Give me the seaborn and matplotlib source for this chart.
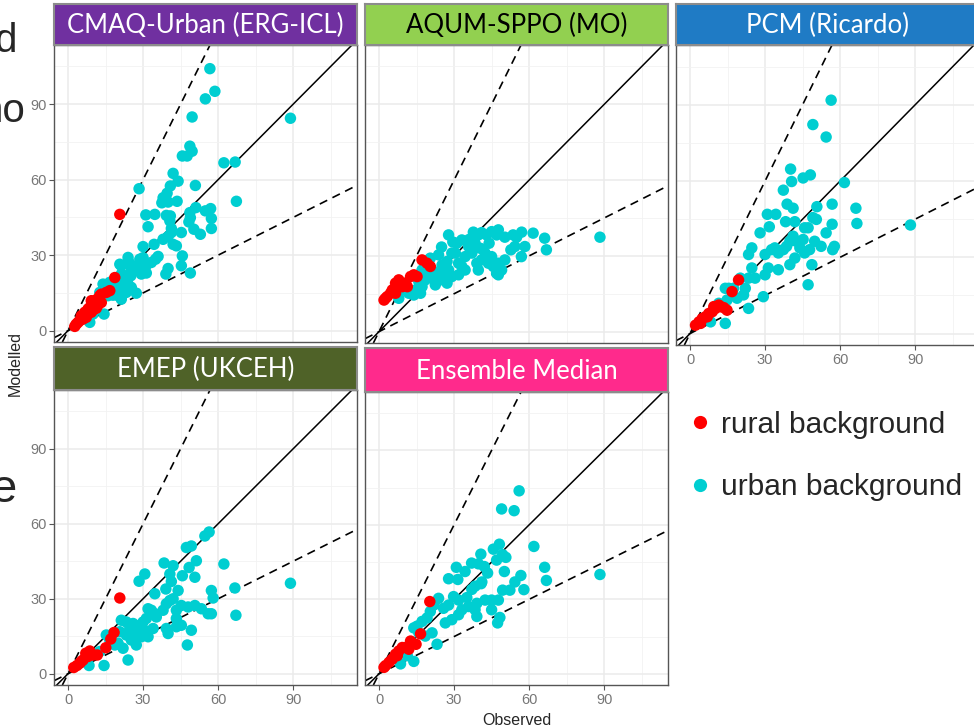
import numpy as np
import pandas as pd
import matplotlib
matplotlib.use("Agg")
import matplotlib.pyplot as plt
import seaborn as sns
from matplotlib.lines import Line2D

# panel titles and strip colours
models = ["CMAQ-Urban (ERG-ICL)", "AQUM-SPPO (MO)", "PCM (Ricardo)",
          "EMEP (UKCEH)", "Ensemble Median"]
strip_colors = ["#7030A0", "#92D050", "#1F7BC5", "#4F6228", "#FF2A8C"]
strip_text_colors = ["white", "black", "white", "white", "white"]
site_types = ["rural background", "urban background"]
site_colors = ["#FF0000", "#00CED1"]
major_ticks = [0, 30, 60, 90]
minor_ticks = [15, 45, 75, 105]

# (observed, modelled) pairs
cmaq_urban = [(56.7, 104.1), (58.7, 95.1), (54.9, 92.1), (49.6, 84.9), (88.9, 84.4),
              (48.7, 73.3), (49.6, 71.3), (45.7, 69.4), (47.6, 69.4), (62.3, 66.7),
              (66.8, 67.0), (67.3, 51.4), (42.0, 62.5), (44.0, 59.4), (40.9, 57.5),
              (50.9, 57.7), (28.4, 56.4), (39.6, 54.6), (38.0, 52.8), (37.5, 50.8),
              (40.0, 51.1), (43.6, 51.4), (51.1, 48.9), (54.9, 47.6), (57.0, 48.5),
              (48.7, 46.9), (48.9, 44.9), (48.3, 43.2), (31.1, 46.0), (34.7, 46.2),
              (39.3, 45.8), (40.9, 45.6), (40.7, 43.6), (32.0, 41.3), (57.3, 44.6),
              (57.3, 40.6), (50.3, 40.3), (52.9, 38.3), (41.3, 40.6), (41.3, 39.0),
              (45.3, 39.0), (38.0, 36.3), (40.0, 37.4), (42.0, 34.3), (43.3, 33.7),
              (34.4, 34.3), (30.0, 33.4), (45.7, 29.7), (45.3, 25.8), (48.9, 22.9),
              (40.0, 24.7), (39.1, 22.5), (36.0, 29.5), (35.0, 28.4), (33.3, 27.1),
              (31.3, 26.0), (30.0, 29.0), (28.7, 28.4), (27.3, 25.8), (28.7, 23.8),
              (31.3, 22.9), (29.3, 22.5), (20.7, 26.4), (21.3, 25.8), (24.0, 29.1),
              (24.4, 27.1), (25.3, 24.4), (25.1, 21.8), (23.3, 21.8), (21.3, 22.5),
              (22.0, 19.2), (24.0, 18.5), (25.3, 17.2), (27.3, 14.9), (14.0, 18.5),
              (16.7, 19.2), (18.7, 18.9), (19.3, 16.5), (22.0, 15.9), (18.0, 14.1),
              (15.1, 15.5), (16.0, 13.9), (12.7, 11.9), (11.3, 9.9), (10.0, 6.6),
              (8.7, 3.3), (14.4, 6.6), (21.3, 12.5), (23.3, 15.2), (20.0, 13.9),
              (12.7, 15.2)]
cmaq_rural = [(20.7, 46.2), (18.7, 21.1), (16.7, 15.9), (15.3, 15.2), (13.3, 14.5),
              (12.7, 13.9), (11.3, 12.3), (10.0, 10.9), (9.3, 11.9), (10.7, 10.6),
              (8.7, 9.2), (8.0, 8.6), (9.3, 7.3), (6.7, 7.3), (7.3, 5.3), (5.3, 5.9),
              (4.7, 4.0), (6.0, 4.6), (3.3, 2.6), (2.7, 1.7), (4.0, 3.3), (12.0, 10.2),
              (13.3, 11.2), (11.3, 8.9), (10.0, 8.2)]

aqum_urban = [(88.3, 37.4), (66.2, 37.0), (66.9, 32.4), (61.6, 39.0), (57.0, 39.4),
              (53.6, 38.3), (55.0, 37.4), (50.3, 37.4), (47.7, 40.3), (47.0, 38.3),
              (45.0, 39.6), (43.0, 38.3), (41.0, 39.2), (37.7, 39.4), (39.7, 38.3),
              (58.3, 33.7), (54.3, 33.7), (52.7, 32.4), (56.9, 29.7), (50.3, 28.4),
              (47.7, 27.1), (49.0, 24.4), (47.0, 23.1), (47.7, 22.5), (45.0, 29.7),
              (42.4, 31.1), (41.0, 28.4), (43.7, 27.1), (45.7, 25.8), (39.1, 27.1),
              (39.7, 24.4), (37.1, 31.1), (35.8, 33.7), (38.4, 35.0), (34.4, 29.7),
              (33.1, 25.8), (31.8, 27.1), (30.5, 31.1), (31.1, 35.0), (33.1, 36.3),
              (27.8, 38.3), (29.1, 31.1), (27.2, 27.8), (27.8, 24.4), (25.8, 23.1),
              (25.2, 26.4), (23.8, 30.4), (20.5, 29.1), (22.5, 23.1), (21.2, 24.4),
              (19.9, 21.8), (17.2, 24.4), (18.5, 20.5), (22.5, 19.8), (24.5, 20.5),
              (27.2, 19.2), (22.5, 18.5), (15.9, 19.8), (17.2, 17.8), (14.6, 16.5),
              (16.6, 15.2), (13.9, 14.5), (11.9, 15.2), (9.9, 16.5), (7.9, 13.2),
              (23.8, 21.8), (29.1, 21.8), (31.8, 22.5), (34.4, 24.4), (36.0, 36.5),
              (44.0, 35.0), (40.5, 33.0), (25.0, 33.5), (29.5, 35.5)]
aqum_rural = [(17.2, 28.4), (19.2, 27.1), (20.5, 25.8), (13.9, 22.5), (12.6, 21.8),
              (15.2, 21.8), (7.9, 20.5), (6.6, 19.2), (9.3, 17.8), (10.6, 19.2),
              (11.3, 17.8), (5.3, 16.5), (4.6, 15.2), (3.3, 13.9), (2.0, 12.5),
              (2.6, 13.2), (6.6, 15.2)]

pcm_urban = [(56.4, 91.8), (49.1, 82.2), (54.4, 77.3), (40.2, 64.7), (40.6, 59.8),
             (37.3, 56.4), (45.2, 61.2), (48.1, 62.4), (61.7, 59.4), (38.8, 50.9),
             (41.2, 49.3), (30.9, 46.9), (34.3, 46.9), (38.2, 44.0), (41.9, 44.0),
             (45.8, 41.6), (49.1, 45.6), (50.5, 44.9), (47.2, 41.6), (50.7, 49.9),
             (56.8, 50.9), (56.8, 43.0), (66.3, 49.3), (66.7, 43.3), (88.1, 42.7),
             (28.0, 39.6), (31.7, 42.0), (24.7, 33.7), (23.4, 31.1), (30.0, 31.1),
             (32.6, 33.0), (33.9, 33.7), (35.3, 31.7), (37.3, 33.0), (38.6, 34.3),
             (39.9, 36.3), (41.2, 38.3), (42.5, 36.3), (43.9, 33.7), (45.2, 37.0),
             (47.8, 33.0), (52.4, 34.3), (54.4, 39.6), (57.0, 33.0), (57.7, 34.3),
             (41.9, 29.7), (39.9, 27.1), (35.3, 25.1), (31.3, 25.8), (30.0, 23.1),
             (29.3, 14.5), (24.7, 25.8), (26.0, 21.8), (23.4, 21.8), (20.1, 21.8),
             (22.1, 17.8), (21.4, 15.2), (23.4, 9.9), (18.8, 13.9), (15.5, 17.8),
             (14.1, 17.8), (17.4, 17.8), (14.8, 13.2), (11.5, 11.9), (8.2, 4.6),
             (14.1, 4.0), (47.2, 19.2), (48.7, 27.1), (45.8, 31.7), (49.8, 36.3)]
pcm_rural = [(16.8, 16.5), (19.4, 21.1), (11.5, 11.2), (10.2, 9.9), (8.9, 8.6),
             (7.5, 7.9), (6.2, 6.6), (4.9, 5.9), (3.6, 4.6), (2.2, 3.3), (14.8, 9.2),
             (13.5, 10.2), (12.2, 10.6), (9.5, 10.6), (6.9, 6.6), (4.2, 4.0)]

emep_urban = [(88.9, 36.2), (56.4, 56.7), (54.7, 55.1), (49.3, 51.1), (47.3, 50.5),
              (51.3, 45.2), (50.7, 38.6), (42.0, 43.2), (38.4, 44.3), (40.7, 39.9),
              (41.3, 36.9), (39.1, 33.9), (44.0, 33.3), (45.7, 39.2), (48.4, 42.5),
              (62.3, 43.9), (66.7, 34.3), (67.1, 23.4), (57.3, 33.3), (58.0, 30.3),
              (53.3, 26.0), (56.0, 24.0), (57.3, 24.0), (50.7, 27.3), (48.0, 26.7),
              (45.3, 27.3), (43.3, 25.4), (42.0, 30.0), (40.7, 29.3), (39.3, 28.0),
              (38.0, 25.4), (35.3, 22.7), (34.7, 24.0), (32.0, 26.0), (31.3, 22.1),
              (30.0, 20.7), (28.7, 19.4), (27.3, 18.1), (24.7, 18.1), (26.0, 20.1),
              (23.3, 20.7), (21.3, 21.4), (31.3, 17.0), (34.0, 18.1), (39.3, 18.1),
              (40.0, 16.1), (43.3, 18.8), (45.3, 19.4), (49.3, 17.4), (47.7, 11.5),
              (24.0, 5.5), (27.3, 11.5), (22.0, 10.2), (20.0, 12.2), (18.7, 11.5),
              (16.7, 13.5), (15.3, 15.5), (18.0, 16.1), (20.7, 16.8), (23.3, 15.5),
              (25.3, 13.5), (27.3, 15.5), (29.3, 14.8), (32.0, 14.8), (30.7, 39.9),
              (28.4, 37.0), (34.7, 32.0), (33.3, 25.4), (43.3, 22.1), (14.4, 3.3),
              (8.4, 3.3), (12.7, 8.9)]
emep_rural = [(20.7, 30.3), (18.4, 16.5), (17.1, 13.9), (15.1, 10.4), (11.7, 7.5),
              (8.7, 9.1), (7.1, 8.2), (8.0, 6.9), (6.0, 5.5), (4.7, 4.2), (3.6, 3.3),
              (2.3, 2.5), (10.0, 7.5), (5.3, 4.9)]

ens_urban = [(56.0, 73.7), (49.0, 66.4), (54.0, 65.7), (88.3, 40.0), (61.9, 51.3),
             (66.2, 42.9), (66.9, 37.6), (48.1, 52.2), (45.7, 50.2), (49.4, 48.0),
             (50.7, 46.9), (47.0, 45.8), (40.7, 48.2), (37.0, 44.6), (39.7, 44.3),
             (42.1, 43.2), (43.4, 40.6), (30.9, 42.9), (34.4, 41.2), (27.8, 38.3),
             (31.5, 38.0), (50.1, 41.2), (54.3, 37.0), (56.7, 39.6), (57.9, 33.9),
             (49.4, 33.7), (52.3, 33.7), (41.1, 37.0), (38.4, 35.3), (37.1, 34.0),
             (35.1, 30.7), (31.8, 29.7), (29.8, 31.1), (27.8, 27.7), (25.8, 26.4),
             (23.8, 30.4), (21.9, 27.7), (20.5, 25.1), (19.2, 22.5), (17.2, 21.1),
             (15.2, 19.2), (13.9, 18.5), (15.9, 16.5), (18.5, 15.2), (23.2, 11.9),
             (21.2, 16.5), (26.5, 20.5), (29.1, 21.8), (31.8, 23.8), (33.1, 25.8),
             (35.8, 27.1), (39.1, 28.4), (42.4, 29.7), (45.0, 29.7), (47.7, 29.7),
             (45.0, 25.8), (48.3, 22.7), (47.4, 20.5), (39.1, 23.1), (38.4, 25.8),
             (40.8, 36.3), (8.6, 4.0), (13.9, 5.0), (11.3, 7.3)]
ens_rural = [(20.3, 29.1), (16.6, 16.1), (14.8, 11.9), (12.6, 13.2), (10.6, 10.6),
             (9.3, 10.6), (7.9, 9.2), (6.6, 7.9), (5.3, 5.9), (4.0, 4.6), (2.6, 3.3),
             (2.0, 2.6), (7.3, 7.3), (11.9, 9.9)]

urban_sets = [cmaq_urban, aqum_urban, pcm_urban, emep_urban, ens_urban]
rural_sets = [cmaq_rural, aqum_rural, pcm_rural, emep_rural, ens_rural]

rows = []
for model, urb, rur in zip(models, urban_sets, rural_sets):
    # urban first so rural dots sit on top
    for o, m in urb:
        rows.append((model, "urban background", o, m))
    for o, m in rur:
        rows.append((model, "rural background", o, m))
df = pd.DataFrame(rows, columns=["model", "site", "obs", "mod"])

sns.set_style("white")
plt.rcParams["font.family"] = ["Liberation Sans", "DejaVu Sans"]

W, H = 974, 728
fig = plt.figure(figsize=(W / 100, H / 100), dpi=100)

# panel boxes in pixels: left, right, top, bottom; strip top
boxes = [(54, 357, 45, 342, 4), (365, 668, 45, 343, 4), (676, 979, 45, 345, 4),
         (54, 357, 390, 685, 347), (365, 668, 392, 685, 348)]
show_y = [True, False, False, True, False]
show_x = [False, False, True, True, True]
palette = dict(zip(site_types, site_colors))

for i, model in enumerate(models):
    l, r, t, b, st = boxes[i]
    ax = fig.add_axes([l / W, 1 - b / H, (r - l) / W, (b - t) / H])
    sub = df[df["model"] == model]
    sns.scatterplot(data=sub, x="obs", y="mod", hue="site", palette=palette,
                    s=68, linewidth=0, legend=False, ax=ax, zorder=3)
    ax.axline((0, 0), slope=1, color="black", lw=1.1, zorder=2)
    ax.axline((0, 0), slope=2, color="black", lw=1.2, ls=(0, (5, 3.5)), zorder=2)
    ax.axline((0, 0), slope=0.5, color="black", lw=1.2, ls=(0, (5, 3.5)), zorder=2)
    ax.set_xlim(-5.6, 115.5)
    ax.set_ylim(-4.5, 113.5)
    ax.set_xticks(major_ticks)
    ax.set_yticks(major_ticks)
    ax.set_xticks(minor_ticks, minor=True)
    ax.set_yticks(minor_ticks, minor=True)
    ax.grid(which="major", color="#EBEBEB", lw=1.1, zorder=0)
    ax.grid(which="minor", color="#F2F2F2", lw=0.6, zorder=0)
    ax.set_axisbelow(True)
    for sp in ax.spines.values():
        sp.set_color("#555555")
        sp.set_linewidth(1.0)
    ax.tick_params(which="minor", length=0)
    ax.tick_params(which="major", length=3.5, width=0.8, color="#555555",
                   labelsize=10.5, labelcolor="#777777", pad=2)
    ax.tick_params(axis="x", bottom=show_x[i], labelbottom=show_x[i])
    ax.tick_params(axis="y", left=show_y[i], labelleft=show_y[i])
    ax.set_xlabel("")
    ax.set_ylabel("")

    # coloured facet strip
    sax = fig.add_axes([l / W, 1 - t / H, (r - l) / W, (t - st) / H])
    sax.set_facecolor(strip_colors[i])
    sax.set_xticks([])
    sax.set_yticks([])
    for sp in sax.spines.values():
        sp.set_color("#8C8C8C")
        sp.set_linewidth(1.5)
    sax.text(0.5, 0.47, model, ha="center", va="center", fontsize=18.5,
             color=strip_text_colors[i], family=["Lato", "DejaVu Sans"],
             transform=sax.transAxes)

fig.text(15 / W, 1 - 364 / H, "Modelled", rotation=90, ha="center", va="center",
         fontsize=11.5)
fig.text(517 / W, 1 - 725 / H, "Observed", ha="center", va="baseline", fontsize=11.5)

# legend in the empty slot
handles = [Line2D([], [], ls="", marker="o", markersize=9.5, color=c,
                  markeredgewidth=0) for c in site_colors]
fig.legend(handles, site_types, loc="upper left",
           bbox_to_anchor=(673 / W, 1 - 396 / H), frameon=False, fontsize=21.5,
           handlelength=0.8, handletextpad=0.3, labelspacing=1.15, borderpad=0)

# cropped slide text on the left edge
fig.text(17 / W, 1 - 52 / H, "d", ha="right", va="baseline", fontsize=29)
fig.text(25 / W, 1 - 122 / H, "no", ha="right", va="baseline", fontsize=29)
fig.text(17 / W, 1 - 502 / H, "e", ha="right", va="baseline", fontsize=34)

fig.savefig("out.png", dpi=100)
